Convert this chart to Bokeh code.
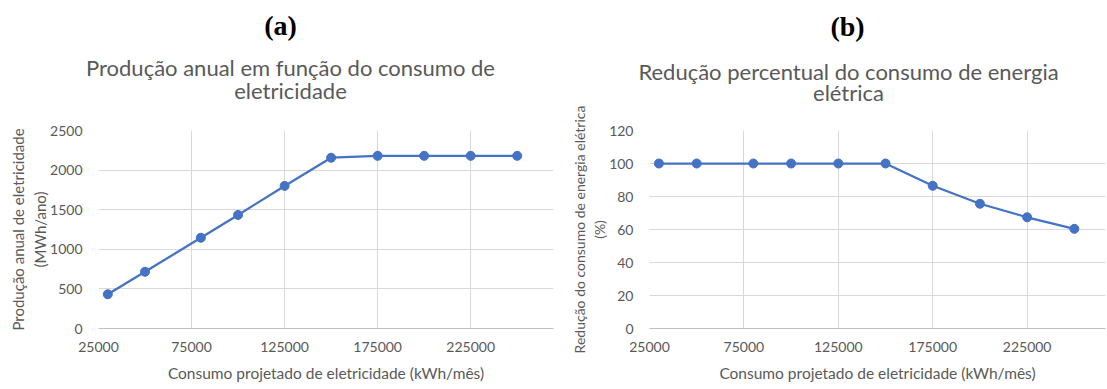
from bokeh.plotting import figure
from bokeh.models import FixedTicker, BasicTickFormatter, Range1d
from bokeh.layouts import row, column
from bokeh.core.properties import value
from bokeh.embed import file_html
from bokeh.resources import INLINE

# Projected monthly consumption (kWh/mês) for each simulated scenario
consumo = [30000, 50000, 80000, 100000, 125000, 150000, 175000, 200000, 225000, 250000]
# Annual electricity production (MWh/ano)
producao = [432, 716, 1146, 1434, 1800, 2156, 2180, 2180, 2180, 2180]
# Percentage reduction of electric energy consumption (%)
reducao = [100, 100, 100, 100, 100, 100, 86.5, 75.6, 67.4, 60.4]

x_ticks = [25000, 75000, 125000, 175000, 225000]
y_ticks_a = [0, 500, 1000, 1500, 2000, 2500]
y_ticks_b = [0, 20, 40, 60, 80, 100, 120]

x_label = "Consumo projetado de eletricidade (kWh/mês)"
y_label_a = "Produção anual de eletricidade\n(MWh/ano)"
y_label_b = "Redução do consumo de energia elétrica\n(%)"
title_a = ["Produção anual em função do consumo de", "eletricidade"]
title_b = ["Redução percentual do consumo de energia", "elétrica"]

BLUE = "#4472C4"
GRID = "#D9D9D9"
TEXT = "#595959"
FONT = "Lato"

H = 389        # total page height
HEAD = 105     # height of the heading strip
TOP = 130      # page y of the plot area top
BOTTOM = 328   # page y of the plot area bottom
W1 = 560       # width of the left column


def make_header(width, letter, letter_cx, letter_base, lines, title_cx, baselines):
    h = figure(width=width, height=HEAD, x_range=Range1d(0, width), y_range=Range1d(HEAD, 0),
               x_axis_type=None, y_axis_type=None, output_backend="svg",
               toolbar_location=None, title=None, min_border=0)
    h.outline_line_color = None
    h.grid.visible = False
    h.background_fill_color = "white"
    h.border_fill_color = "white"
    h.text(x=[letter_cx], y=[letter_base], text=[letter],
           text_font=value("Liberation Serif"), text_font_style="bold",
           text_font_size="28px", text_color="black",
           text_align="center", text_baseline="alphabetic")
    h.text(x=[title_cx] * len(lines), y=baselines, text=lines,
           text_font=value(FONT), text_font_size="22px", text_color=TEXT,
           text_align="center", text_baseline="alphabetic")
    return h


def make_panel(width, left, right, x_end, y_end, y_ticks, y_label, y_label_size, values):
    p = figure(width=width, height=H - HEAD,
               x_range=Range1d(25000, x_end), y_range=Range1d(0, y_end),
               output_backend="svg", toolbar_location=None, title=None,
               min_border_left=left, min_border_right=right,
               min_border_top=TOP - HEAD, min_border_bottom=H - BOTTOM)
    p.outline_line_color = None
    p.background_fill_color = "white"
    p.border_fill_color = "white"

    p.xaxis.ticker = FixedTicker(ticks=x_ticks)
    p.yaxis.ticker = FixedTicker(ticks=y_ticks)
    p.xgrid.ticker = FixedTicker(ticks=x_ticks)
    p.ygrid.ticker = FixedTicker(ticks=y_ticks)
    p.xaxis.formatter = BasicTickFormatter(use_scientific=False)
    p.yaxis.formatter = BasicTickFormatter(use_scientific=False)
    for g in (p.xgrid, p.ygrid):
        g.grid_line_color = GRID
        g.grid_line_width = 1

    for ax in (p.xaxis, p.yaxis):
        ax.major_tick_line_color = None
        ax.minor_tick_line_color = None
        ax.major_label_text_font = FONT
        ax.major_label_text_font_size = "14px"
        ax.major_label_text_color = TEXT
        ax.axis_label_text_font = FONT
        ax.axis_label_text_font_style = "normal"
        ax.axis_label_text_color = TEXT
    p.xaxis.axis_label_text_font_size = "15.5px"
    p.yaxis.axis_label_text_font_size = y_label_size
    p.xaxis.axis_line_color = "#BFBFBF"
    p.yaxis.axis_line_color = None
    p.xaxis.major_label_standoff = 7
    p.yaxis.major_label_standoff = 10
    p.xaxis.axis_label_standoff = 9
    p.yaxis.axis_label_standoff = -2
    p.xaxis.axis_label = x_label
    p.yaxis.axis_label = y_label

    p.line(consumo, values, line_color=BLUE, line_width=2.25)
    p.scatter(consumo, values, size=9, fill_color=BLUE, line_color=BLUE)
    return p


ha = make_header(W1, "(a)", 280, 25, title_a, 290, [67, 90])
hb = make_header(1107 - W1, "(b)", 847 - W1, 26, title_b, 848 - W1, [71, 92])
pa = make_panel(W1, 98, W1 - 553, 269500, 2500, y_ticks_a, y_label_a, "15px", producao)
pb = make_panel(1107 - W1, 649 - W1, 2, 266500, 120, y_ticks_b, y_label_b, "14px", reducao)

layout = column(row(ha, hb), row(pa, pb))
open("out.html", "w").write(file_html(layout, INLINE))
